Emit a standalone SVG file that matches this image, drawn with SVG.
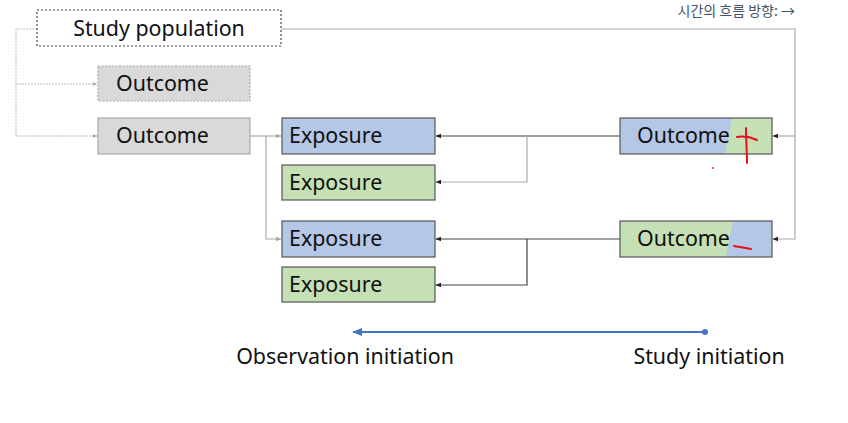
<svg xmlns="http://www.w3.org/2000/svg" width="848" height="423" viewBox="0 0 848 423">
<style>
text{font-family:"Noto Sans","Noto Sans CJK KR",sans-serif;fill:#111}
.lbl{font-size:21.4px}
.box{stroke:#555;stroke-width:1.2}
.blue{fill:#b4c7e7}
.green{fill:#c5e0b4}
.gray{fill:#d9d9d9;stroke:#aaa;stroke-width:1.2}
.c1{fill:none;stroke:#bbb;stroke-width:1}
.c2{fill:none;stroke:#444;stroke-width:1.2}
.c3{fill:none;stroke:#aaa;stroke-width:1.2}
.red{fill:none;stroke:#e8101a;stroke-width:2;stroke-linecap:round}
</style>
<defs>
<marker id="ag" viewBox="0 0 10 10" refX="9" refY="5" markerWidth="5" markerHeight="5" orient="auto"><path d="M0,1 L10,5 L0,9 z" fill="#aaa"/></marker>
<marker id="ak" viewBox="0 0 10 10" refX="9" refY="5" markerWidth="5" markerHeight="5" orient="auto"><path d="M0,1 L10,5 L0,9 z" fill="#222"/></marker>
<marker id="ab" viewBox="0 0 10 10" refX="9" refY="5" markerWidth="5" markerHeight="5" orient="auto"><path d="M0,1 L10,5 L0,9 z" fill="#4472c4"/></marker>
<clipPath id="cp1"><rect x="620" y="118" width="152" height="36"/></clipPath>
<clipPath id="cp2"><rect x="620" y="221" width="152" height="36"/></clipPath>
</defs>
<g id="connectors">
<path class="c1" d="M37,29 H16 V136 H97" marker-end="url(#ag)" stroke-dasharray="2,1"/>
<path class="c1" d="M16,84 H97" marker-end="url(#ag)" stroke-dasharray="2,1"/>
<path class="c3" d="M281,29 H795 V239 H773" marker-end="url(#ak)"/>
<path class="c3" d="M795,136 H773" marker-end="url(#ak)"/>
<path class="c3" d="M250,136 H281" marker-end="url(#ag)"/>
<path class="c3" d="M266,136 V239 H281" marker-end="url(#ag)"/>
<path class="c2" d="M620,136 H436" marker-end="url(#ak)"/>
<path class="c3" d="M527,136 V182 H436" marker-end="url(#ak)"/>
<path class="c2" d="M620,239 H436" marker-end="url(#ak)"/>
<path class="c2" d="M527,239 V285 H436" marker-end="url(#ak)"/>
</g>
<g id="study-population"><rect x="37" y="10" width="244" height="36" fill="#fff" stroke="#444" stroke-width="1.2" stroke-dasharray="2,2"/><text class="lbl" x="159" y="36" text-anchor="middle">Study population</text></g>
<g id="outcome-dashed"><rect x="98" y="66" width="152" height="35" class="gray" stroke-dasharray="2,1.5"/><text class="lbl" x="116" y="91">Outcome</text></g>
<g id="outcome-gray"><rect x="98" y="118" width="152" height="36" class="gray"/><text class="lbl" x="116" y="143">Outcome</text></g>
<g id="exposure1"><rect x="282" y="118" width="153" height="36" class="box blue"/><text class="lbl" x="289" y="143">Exposure</text></g>
<g id="exposure2"><rect x="282" y="165" width="153" height="35" class="box green"/><text class="lbl" x="289" y="190">Exposure</text></g>
<g id="exposure3"><rect x="282" y="221" width="153" height="36" class="box blue"/><text class="lbl" x="289" y="246">Exposure</text></g>
<g id="exposure4"><rect x="282" y="267" width="153" height="35" class="box green"/><text class="lbl" x="289" y="292">Exposure</text></g>
<g id="outcome-plus">
<g clip-path="url(#cp1)"><rect x="620" y="118" width="152" height="36" class="blue"/><polygon points="732,118 772,118 772,154 725,154" class="green"/></g>
<rect x="620" y="118" width="152" height="36" fill="none" class="box"/>
<text class="lbl" x="637" y="143">Outcome</text>
<path class="red" d="M737,137 C743,136 750,137 757,140 M746,128 C746,140 747,152 747,163"/>
</g>
<g id="outcome-minus">
<g clip-path="url(#cp2)"><rect x="620" y="221" width="152" height="36" class="green"/><polygon points="733,221 772,221 772,257 726,257" class="blue"/></g>
<rect x="620" y="221" width="152" height="36" fill="none" class="box"/>
<text class="lbl" x="637" y="246">Outcome</text>
<path class="red" d="M734,246 C740,247 746,248 751,249"/>
</g>
<circle cx="713" cy="168" r="0.9" fill="#e8101a"/>
<g id="timeline">
<path d="M705,332 H353" stroke="#4472c4" stroke-width="2" fill="none" marker-end="url(#ab)"/>
<circle cx="705" cy="332" r="3" fill="#4472c4"/>
<text class="lbl" x="345" y="364" text-anchor="middle">Observation initiation</text>
<text class="lbl" x="709" y="364" text-anchor="middle">Study initiation</text>
</g>
<text x="795" y="16" text-anchor="end" style="font-size:14px;fill:#44546a;font-family:'Noto Sans CJK KR','Noto Sans',sans-serif">시간의 흐름 방향: →</text>
</svg>
